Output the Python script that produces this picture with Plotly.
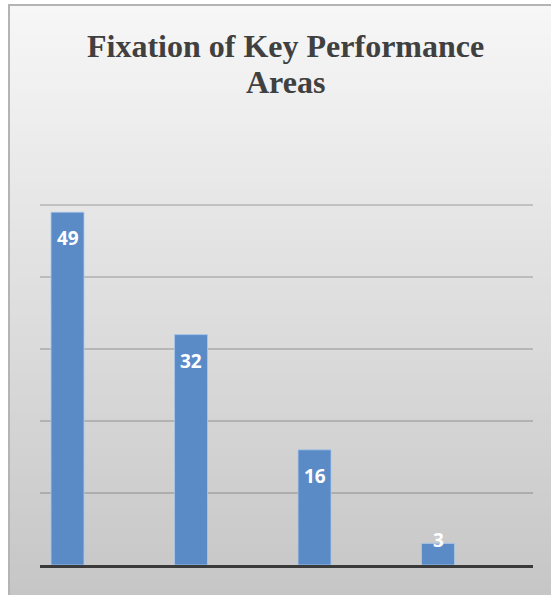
import plotly.graph_objects as go

# ---- data ----
categories = ["Category 1", "Category 2", "Category 3", "Category 4"]
values = [49, 32, 16, 3]
title_lines = ["Fixation of Key Performance", "Areas"]
y_ticks = [0, 10, 20, 30, 40, 50, 60]

W, H = 551, 595
L, R, T, B = 40, 18, 133, 30
pw, ph = W - L - R, H - T - B


def px_to_paper_x(px):
    return (px - L) / pw


def px_to_paper_y(py):
    return (H - B - py) / ph


fig = go.Figure()
fig.add_trace(go.Bar(
    x=categories, y=values,
    marker=dict(color="#5b8bc7", line=dict(color="rgba(170,200,235,0.8)", width=1)),
    hoverinfo="skip",
))

# data labels (white, inside top of bars)
per_unit = ph / (y_ticks[-1] - y_ticks[0])
for c, v in zip(categories, values):
    shift = -26 if v * per_unit > 45 else 3
    fig.add_annotation(x=c, y=v, text=str(v), showarrow=False, yanchor="middle",
                       yshift=shift,
                       font=dict(family="Open Sans", size=19, color="white", weight="bold"),
                       xref="x", yref="y")

# chart title, one annotation per line
title_centers = [46, 82]
for line, cy in zip(title_lines, title_centers):
    fig.add_annotation(x=px_to_paper_x(285.5), y=px_to_paper_y(cy), xref="paper", yref="paper",
                       text=line, showarrow=False, xanchor="center", yanchor="middle",
                       font=dict(family="Liberation Serif", size=32, color="#404040", weight="bold"))

# background gradient bands (frame from x=9, y=5 to page edge)
shapes = []
n = 80
top_px, bot_px = 5, H
c_top, c_bot = 247, 198
for i in range(n):
    y0p = top_px + (bot_px - top_px) * i / n
    y1p = top_px + (bot_px - top_px) * (i + 1) / n + 1
    t = (i + 0.5) / n
    g = round(c_top + (c_bot - c_top) * t)
    col = f"rgb({g},{g},{g})"
    shapes.append(dict(type="rect", xref="paper", yref="paper", layer="below",
                       x0=px_to_paper_x(9), x1=px_to_paper_x(W + 2),
                       y0=px_to_paper_y(y1p), y1=px_to_paper_y(y0p),
                       fillcolor=col, line=dict(width=0)))
# frame border
shapes.append(dict(type="rect", xref="paper", yref="paper", layer="below",
                   x0=px_to_paper_x(9), x1=px_to_paper_x(W + 5),
                   y0=px_to_paper_y(H + 5), y1=px_to_paper_y(5),
                   fillcolor="rgba(0,0,0,0)", line=dict(color="#b4b4b4", width=2)))

fig.update_layout(
    width=W, height=H,
    margin=dict(l=L, r=R, t=T, b=B, pad=0),
    paper_bgcolor="white", plot_bgcolor="rgba(0,0,0,0)",
    showlegend=False,
    bargap=0.733,
    shapes=shapes,
    xaxis=dict(range=[-0.2227, 3.769], showticklabels=False, ticks="", showgrid=False,
               showline=True, linecolor="#3a3a3a", linewidth=3, zeroline=False, fixedrange=True),
    yaxis=dict(range=[y_ticks[0], y_ticks[-1]], tickvals=y_ticks, showticklabels=False, ticks="",
               showgrid=True, gridcolor="rgba(0,0,0,0.16)", gridwidth=2, zeroline=False,
               showline=False, fixedrange=True),
)

fig.write_html("out.html", config={"displayModeBar": False},
               post_script="document.body.style.margin='0';document.body.style.overflow='hidden';")
